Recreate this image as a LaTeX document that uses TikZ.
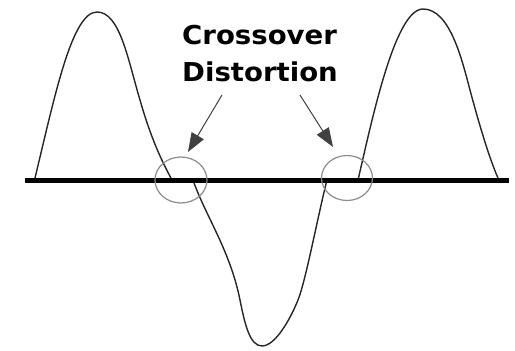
\documentclass[tikz,border=0pt]{standalone}
\usepackage{fontspec}
\setmainfont{DejaVu Sans}
\usetikzlibrary{arrows.meta,shapes.geometric}
\tikzset{
  wave/.style={line width=1.4pt, black!85, line join=round},
  axisline/.style={line width=5pt, black},
  ring/.style={draw=black!45, line width=1.2pt, ellipse, inner sep=0pt},
  pointer/.style={draw=black!75, line width=1pt, -{Triangle[length=19pt,width=14pt]}},
  label/.style={font=\bfseries\fontsize{26}{37}\selectfont, align=left, inner sep=0pt, anchor=north west, xscale=1.06}
}
\begin{document}
\begin{tikzpicture}[x=1pt,y=-1pt]
\useasboundingbox (0,0) rectangle (515,351);
% waveform
\draw[wave] (35,178) .. controls (55,95) and (72,12) .. (97,12)
  .. controls (120,12) and (128,60) .. (140,100)
  .. controls (150,135) and (160,158) .. (172,180)
  -- (193,180)
  .. controls (205,215) and (230,250) .. (240,300)
  .. controls (245,325) and (250,346) .. (262,346)
  .. controls (275,346) and (290,320) .. (298,300)
  .. controls (306,280) and (318,215) .. (327,180)
  -- (358,180)
  .. controls (372,120) and (395,9) .. (423,9)
  .. controls (450,9) and (462,60) .. (470,90)
  .. controls (480,127.5) and (490,160) .. (498,178);
% axis
\draw[axisline] (25,180) -- (509,180);
% rings
\node[ring, minimum width=52pt, minimum height=46pt] (ringL) at (181,180) {};
\node[ring, minimum width=51pt, minimum height=45pt] (ringR) at (347,178) {};
% label
\node[label] (txt) at (182,25) {Crossover\\Distortion};
% pointers
\coordinate (pL) at (222,95);
\coordinate (tL) at (188,152);
\coordinate (pR) at (300,95);
\coordinate (tR) at (333,147);
\draw[pointer] (pL) -- (tL);
\draw[pointer] (pR) -- (tR);
\end{tikzpicture}
\end{document}
